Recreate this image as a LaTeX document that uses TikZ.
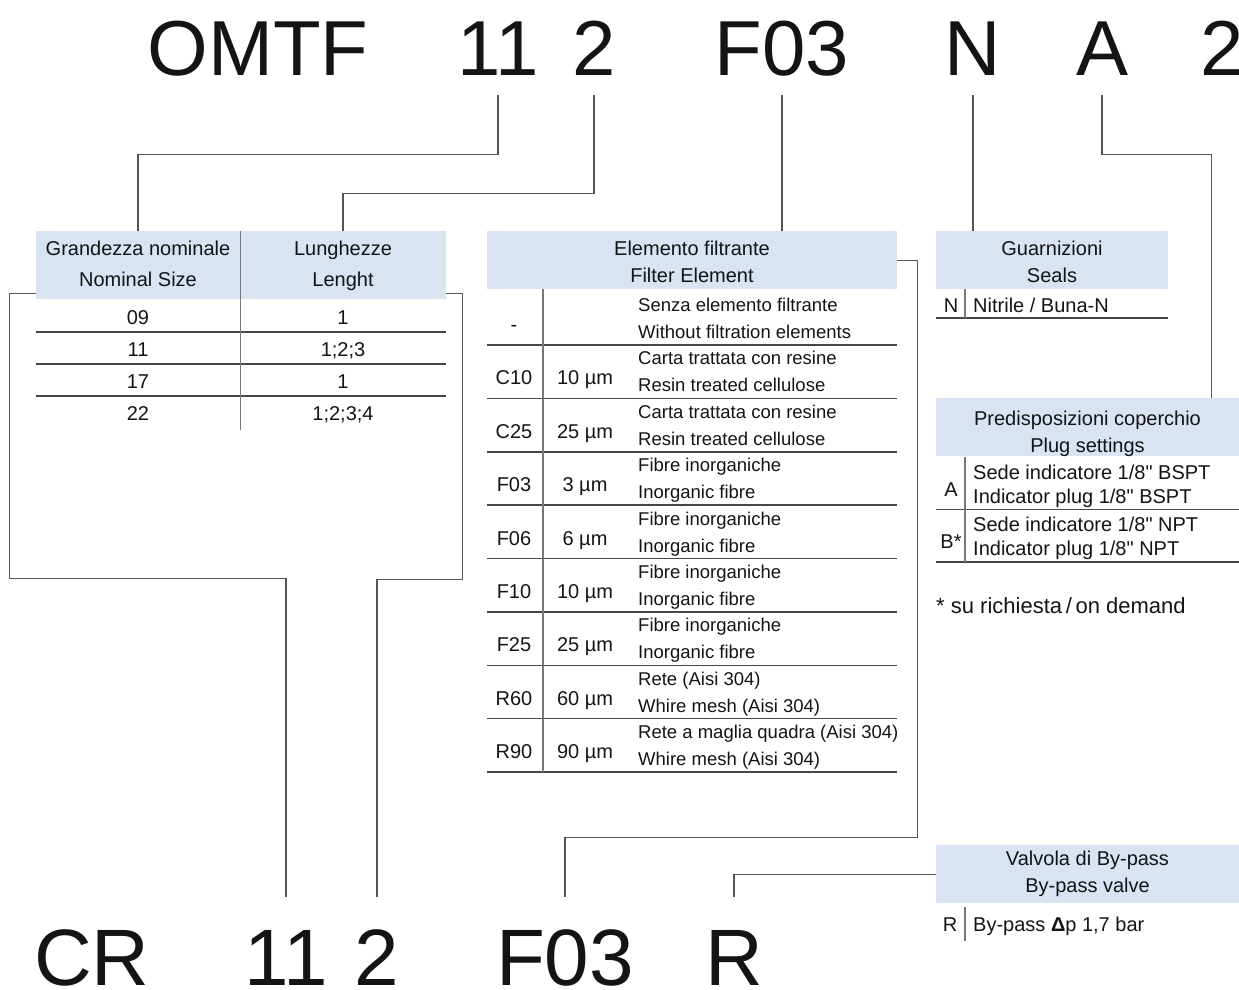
\documentclass[tikz,border=0pt]{standalone}
\usepackage{fontspec}
\setmainfont{Liberation Sans}[Ligatures=TeXOff]
\usetikzlibrary{positioning, calc}
\definecolor{HdrBlue}{RGB}{217,227,242}
\definecolor{RuleGray}{RGB}{70,70,70}
\definecolor{LeadGray}{RGB}{85,85,85}
\definecolor{ColGray}{RGB}{120,120,120}
\definecolor{InkBlack}{RGB}{20,20,20}
\newcommand\upstr[1]{\vrule height #1 width 0pt}
\newcommand\dnstr[1]{\vrule depth #1 width 0pt}

\begin{document}
\begin{tikzpicture}[x=1pt, y=-1pt,
  every node/.append style={text=InkBlack},
  topcode/.style={anchor=base, inner sep=0pt, text depth=20pt, font=\fontsize{78}{80}\selectfont},
  botcode/.style={anchor=base, inner sep=0pt, text height=88pt, font=\fontsize{80}{84}\selectfont},
  hdr/.style={fill=HdrBlue, inner sep=0pt, minimum width=#1, anchor=north, align=center, font=\fontsize{20}{27}\selectfont},
  cell/.style={anchor=base, inner sep=0pt, font=\fontsize{20}{24}\selectfont},
  txt/.style={anchor=base west, inner sep=0pt, font=\fontsize{20}{24}\selectfont},
  desc/.style={anchor=base west, inner sep=0pt, font=\fontsize{18.5}{24}\selectfont},
  lead/.style={draw=LeadGray, line width=1.2pt},
  rowline/.style={draw=RuleGray, line width=1.5pt},
  colline/.style={draw=ColGray, line width=1.4pt}
]
\useasboundingbox (0,0) rectangle (1239,990);

% Order codes
\node[topcode] (omtf) at (258,75) {OMTF};
\node[topcode] (size) at (498,75) {11};
\node[topcode] (len) at (594,75) {2};
\node[topcode] (elem) at (782,75) {F03};
\node[topcode] (seal) at (973,75) {N};
\node[topcode] (plug) at (1102,75) {A};
\node[topcode] (last) at (1222,75) {2};

\node[botcode] (cr) at (92,985) {CR};
\node[botcode] (bsize) at (286,985) {11};
\node[botcode] (blen) at (377,985) {2};
\node[botcode] (bfil) at (565,985) {F03};
\node[botcode] (bvalve) at (734,985) {R};

% Size / length table
\node[hdr=204, font=\fontsize{20}{31}\selectfont] (gn) at (138,231) {\upstr{24pt}Grandezza nominale\\Nominal Size\dnstr{13pt}};
\node[hdr=206, font=\fontsize{20}{31}\selectfont] (lh) at (343,231) {\upstr{24pt}Lunghezze\\Lenght\dnstr{13pt}};
\foreach \s/\l [count=\i from 0] in {09/1, 11/{1;2;3}, 17/1, 22/{1;2;3;4}} {
  \node[cell] (nsz\i) at (138,{324+32*\i}) {\s};
  \node[cell] (nln\i) at (343,{324+32*\i}) {\l};
}
\foreach \y in {332,364,396} \draw[rowline] (36,\y) -- (446,\y);
\draw[colline] (gn.north east) -- ++(0,199);

% Filter element table
\node[hdr=410] (fe) at (692,231) {\upstr{24pt}Elemento filtrante\\Filter Element\dnstr{7pt}};
\foreach \c/\m/\da/\db [count=\i from 0] in {
  -/{}/Senza elemento filtrante/Without filtration elements,
  C10/10 µm/Carta trattata con resine/Resin treated cellulose,
  C25/25 µm/Carta trattata con resine/Resin treated cellulose,
  F03/3 µm/Fibre inorganiche/Inorganic fibre,
  F06/6 µm/Fibre inorganiche/Inorganic fibre,
  F10/10 µm/Fibre inorganiche/Inorganic fibre,
  F25/25 µm/Fibre inorganiche/Inorganic fibre,
  R60/60 µm/Rete (Aisi 304)/Whire mesh (Aisi 304),
  R90/90 µm/Rete a maglia quadra (Aisi 304)/Whire mesh (Aisi 304)} {
  \pgfmathsetmacro\ty{291.6+53.375*\i}
  \node[cell] (fc\i) at (514,\ty+40) {\c};
  \node[cell] (fm\i) at (585,\ty+40) {\m};
  \node[desc] (fa\i) at (638,\ty+20) {\da};
  \node[desc] (fb\i) at (638,\ty+47) {\db};
  \draw[rowline] (487,\ty+53.4) -- (897,\ty+53.4);
}
\draw[colline] ([xshift=56pt]fe.south west) -- ++(0,483);

% Seals table
\node[hdr=232] (gs) at (1052,231) {\upstr{24pt}Guarnizioni\\Seals\dnstr{7pt}};
\node[cell] (sn) at (951,312) {N};
\node[txt] (st) at (973,312) {Nitrile / Buna-N};
\draw[rowline] (936,318) -- (1168,318);
\draw[colline] ([xshift=29pt]gs.south west) -- ++(0,29);

% Plug settings table
\node[hdr=303] (ps) at (1087.5,398) {\upstr{27pt}Predisposizioni coperchio\\Plug settings\dnstr{4pt}};
\foreach \c/\da/\db [count=\i from 0] in {
  A/{Sede indicatore 1/8" BSPT}/{Indicator plug 1/8" BSPT},
  B*/{Sede indicatore 1/8" NPT}/{Indicator plug 1/8" NPT}} {
  \pgfmathsetmacro\ty{457+52.5*\i}
  \node[cell] (pc\i) at (951,\ty+39) {\c};
  \node[txt] (pa\i) at (973,\ty+22) {\da};
  \node[txt] (pb\i) at (973,\ty+46) {\db};
  \draw[rowline] (936,\ty+52.5) -- (1239,\ty+52.5);
}
\draw[colline] ([xshift=29pt]ps.south west) -- ++(0,105);
\node[txt, font=\fontsize{22}{24}\selectfont] (note) at (936,613) {* su richiesta\,/\,on demand};

% By-pass table
\node[hdr=303] (bp) at (1087.5,845) {\upstr{20pt}Valvola di By-pass\\By-pass valve\dnstr{11pt}};
\node[cell] (bpc) at (950,931) {R};
\node[txt] (bpt) at (973,931) {By-pass \textbf{Δ}p 1,7 bar};
\draw[colline] ([xshift=29pt,yshift=-4pt]bp.south west) -- ++(0,34);

% Leaders
\draw[lead] (size.south) -- ++(0,59) -| (gn.north);
\draw[lead] (len.south) -- ++(0,98) -| (lh.north);
\draw[lead] (elem.south) -- (elem.south |- fe.north);
\draw[lead] (seal.south) -- (seal.south |- gs.north);
\draw[lead] (plug.south) -- ++(0,59) -| ([xshift=-28pt]ps.north east);
\draw[lead] ([yshift=6pt]gn.south west) -| ++(-26,285) -| (bsize.north);
\draw[lead] ([yshift=6pt]lh.south east) -| ++(16,286) -| (blen.north);
\draw[lead] (fe.east) -| ++(20,577) -| (bfil.north);
\draw[lead] (bp.west) -| (bvalve.north);
\end{tikzpicture}
\end{document}
